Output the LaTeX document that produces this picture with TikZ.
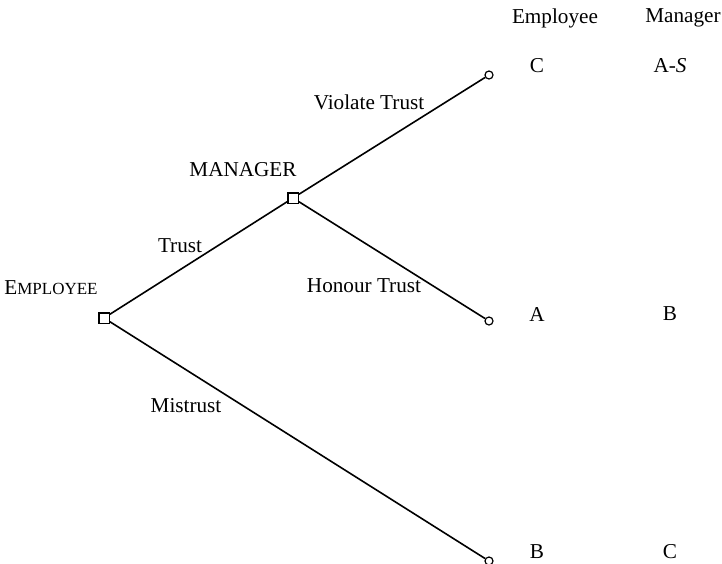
\documentclass[tikz,border=0pt]{standalone}
\usepackage{fontspec}
\setmainfont{Liberation Serif}
\begin{document}
\begin{tikzpicture}[x=0.5pt,y=-0.5pt,font=\fontsize{10.6}{12.7}\selectfont]
		\tikzset{decision/.style = {shape=rectangle,draw, inner sep = 0pt, minimum size = 5.2pt, fill=white, line width=0.7pt}}
		\tikzset{terminal/.style = {shape=circle,draw, inner sep = 0pt, minimum size = 4pt, fill=white, line width=0.6pt}}
		\tikzset{branch/.style = {line width=0.8pt}}

		\useasboundingbox (0,0) rectangle (722,563);

		\node[decision] (E_1) at (104,318) {};
		\node[decision] (M_1) at (293,198) {};

		\node[terminal] (T_1) at (489,75) {};
		\node[terminal] (T_2) at (489,321) {};
		\node[terminal] (T_3) at (489,561) {};

		\draw[branch] (E_1) -- (M_1);
		\draw[branch] (E_1) -- (T_3);
		\draw[branch] (M_1) -- (T_1);
		\draw[branch] (M_1) -- (T_2);

		\node (L_E) at (51,288) {E{\fontsize{8.5}{10}\selectfont MPLOYEE}};
		\node (L_M) at (243,170) {MANAGER};

		\node (L_t) at (180,246) {Trust};
		\node (L_mt) at (186,406) {Mistrust};
		\node (L_vt) at (369,102) {Violate Trust};
		\node (L_ht) at (364,286) {Honour Trust};

		\node (H_1) at (555,18) {Employee};
		\node (H_2) at (683,18) {Manager};

		\node (P_11) at (537,66) {C};
		\node (P_12) at (670,66) {A-\textit{S}};
		\node (P_21) at (537,314) {A};
		\node (P_22) at (670,314) {B};
		\node (P_31) at (537,552) {B};
		\node (P_32) at (670,552) {C};

	\end{tikzpicture}
\end{document}
